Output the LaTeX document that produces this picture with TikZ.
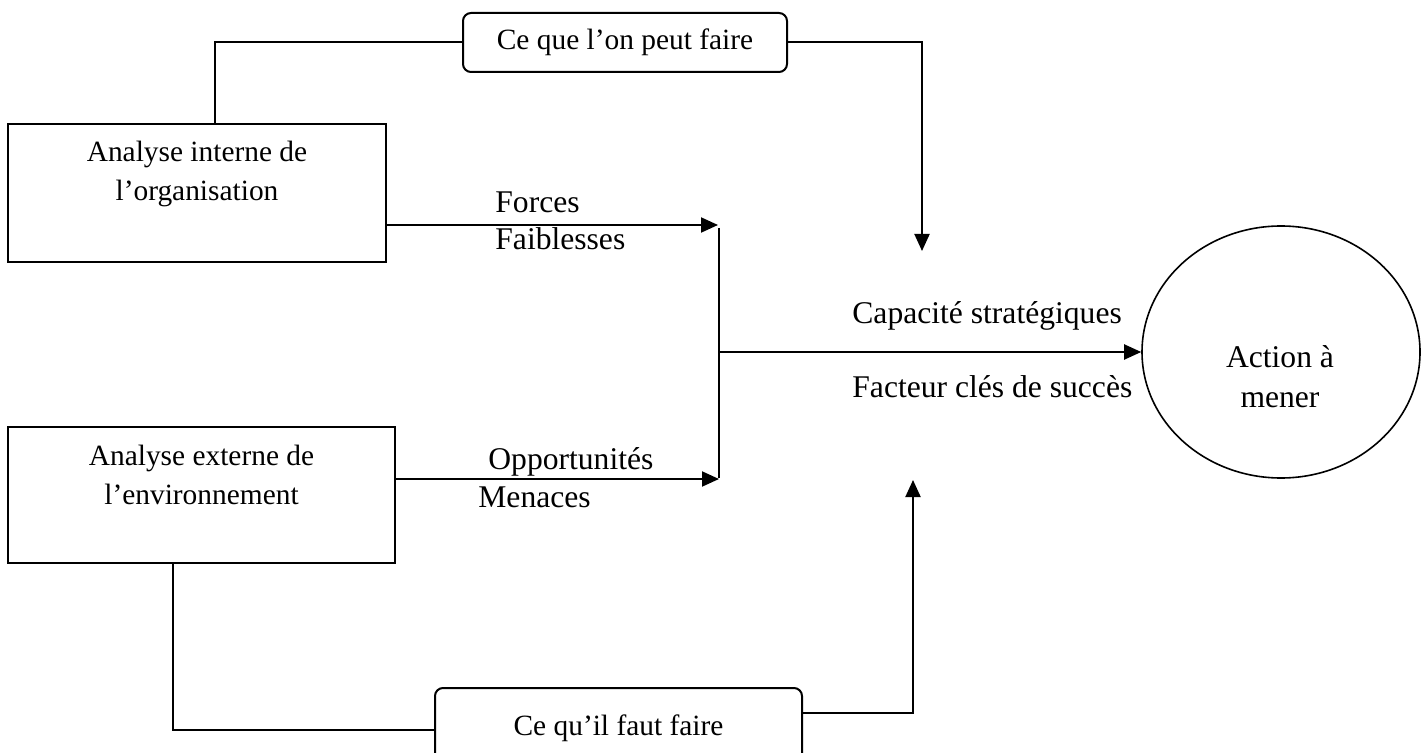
\documentclass[tikz,border=0pt]{standalone}
\usepackage{fontspec}
\setmainfont{Liberation Serif}
\usetikzlibrary{arrows.meta,shapes.geometric}
\tikzset{
  every node/.style={font=\fontsize{14.7}{19.5}\selectfont, inner sep=0pt},
  bigfont/.style={font=\fontsize{15.8}{20.5}\selectfont},
  boxshape/.style={draw, line width=1pt, rectangle},
  roundbox/.style={draw, line width=1pt, rectangle, rounded corners=4pt},
  conn/.style={line width=1pt},
  arr/.style={line width=1pt, -{Triangle[length=8.5pt,width=7.5pt]}},
  lbl/.style={anchor=base west, bigfont},
  ctext/.style={anchor=base}
}
\begin{document}
\begin{tikzpicture}[x=0.5pt,y=-0.5pt]
\useasboundingbox (0,0) rectangle (1428,753);
\clip (0,0) rectangle (1428,753);
\fill[white] (0,0) rectangle (1428,753);

% boxes
\node[roundbox, minimum width=162pt, minimum height=29.5pt] (top) at (625,42.5) {Ce que l’on peut faire};
\node[roundbox, minimum width=183.5pt, minimum height=40pt] (bot) at (618.5,728) {};
\node[ctext] (botT) at (618.5,735) {Ce qu’il faut faire};

\node[boxshape, minimum width=189pt, minimum height=69pt] (int) at (197,193) {};
\node[ctext] (intT) at (197,161.7) {\begin{tabular}[t]{@{}c@{}}Analyse interne de\\l’organisation\end{tabular}};

\node[boxshape, minimum width=193.5pt, minimum height=68pt] (ext) at (201.5,495) {};
\node[ctext] (extT) at (201.5,465) {\begin{tabular}[t]{@{}c@{}}Analyse externe de\\l’environnement\end{tabular}};

\node[draw, ellipse, line width=0.8pt, minimum width=139pt, minimum height=126pt] (act) at (1281,352) {};
\node[ctext, bigfont] (actT) at (1280,367) {\begin{tabular}[t]{@{}c@{}}Action à\\mener\end{tabular}};

% labels
\node[lbl] (forces) at (495,213) {Forces};
\node[lbl] (faib) at (495,250) {Faiblesses};
\node[lbl] (opp) at (488,469) {Opportunités};
\node[lbl] (men) at (478,507) {Menaces};
\node[lbl] (cap) at (852,324) {Capacité stratégiques};
\node[lbl] (fcs) at (852,397) {Facteur clés de succès};

% coordinates
\coordinate (c1) at (215,124);
\coordinate (t1) at (922,251);
\coordinate (i1) at (386,225);
\coordinate (i2) at (718,225);
\coordinate (e2) at (395,479);
\coordinate (e3) at (719,479);
\coordinate (jt) at (719,228);
\coordinate (jb) at (719,478);
\coordinate (jm) at (719,352);
\coordinate (e1) at (173,563);
\coordinate (b1) at (435,730);
\coordinate (b2) at (802,713);
\coordinate (t2) at (913,480);

% connectors
\draw[conn] (top.west) -| (c1);
\draw[arr] (top.east) -| (t1);
\draw[arr] (i1) -- (i2);
\draw[arr] (e2) -- (e3);
\draw[conn] (jt) -- (jb);
\draw[arr] (jm) -- (act.west);
\draw[conn] (e1) |- (b1);
\draw[arr] (b2) -| (t2);
\end{tikzpicture}
\end{document}
